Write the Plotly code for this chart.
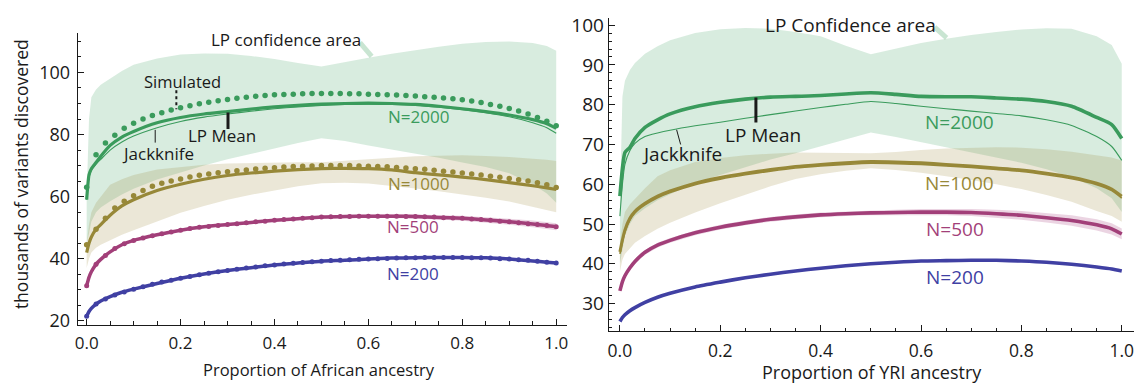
import plotly.graph_objects as go

# ---------------- data ----------------
XL = [0, 0.005, 0.01, 0.02, 0.03, 0.05, 0.075, 0.1, 0.15, 0.2, 0.25, 0.3, 0.35, 0.4, 0.45,
      0.5, 0.55, 0.6, 0.65, 0.7, 0.75, 0.8, 0.85, 0.9, 0.95, 0.98, 1.0]
XD = [round(i * 0.02, 2) for i in range(51)]

# Left panel (African ancestry)
L_G_MEAN = [59, 67, 69, 71, 73, 76.5, 79.2, 81, 83.8, 85.5, 86.6, 87.4, 88.2, 88.9, 89.4,
            89.8, 90, 90.1, 90, 89.7, 89.1, 88.3, 87.4, 86.3, 84.8, 83.5, 82]
L_G_JACK = [59, 66, 68.5, 70.5, 72, 75, 77.6, 79.5, 82.2, 84.2, 85.6, 86.6, 87.5, 88.3, 88.9,
            89.4, 89.7, 89.8, 89.7, 89.4, 88.8, 88, 87, 85.7, 83.8, 82.2, 80.4]
L_G_LO = [45, 48, 52, 55, 56.5, 58.5, 60.7, 62.5, 65.5, 67.8, 70, 72, 73.8, 75.6, 77.3,
          78.8, 77.9, 76.5, 75.2, 73.8, 72.5, 71, 69.5, 67.5, 64, 61, 58]
L_G_HI = [60, 85, 92, 94.5, 96, 98, 100.5, 102.5, 104.5, 105.8, 106.1, 106, 105.3, 104.3, 103,
          101.9, 103.3, 104.7, 106, 107.2, 108.3, 109.2, 109.8, 110, 109.5, 108.5, 107]
L_Y_MEAN = [42, 45, 47, 49.5, 51, 54, 57, 59, 62, 64, 65.6, 66.8, 67.6, 68.2, 68.7,
            69, 69.1, 69, 68.6, 67.7, 67, 66.3, 65.5, 64.5, 63.5, 62.8, 62.3]
L_Y_LO = [37, 40, 42, 43.5, 44.5, 46, 47.7, 49.2, 52, 54.8, 57, 59, 60.6, 62, 63.3,
          64.3, 64.5, 64.2, 63.5, 62.6, 61.7, 60.7, 59.6, 58.4, 56.8, 55.8, 55]
L_Y_HI = [45, 51, 55, 58, 60, 63.8, 65.6, 67, 68.7, 69.6, 70.3, 70.7, 70.9, 71, 71.1,
          71.1, 71.5, 72, 72.5, 73, 73.2, 73.3, 73.1, 72.8, 72.2, 71.9, 71.5]
L_M_MEAN = [31.3, 34, 35.8, 38.2, 39.8, 42.2, 44.5, 45.9, 47.7, 49.2, 50.3, 51, 51.7, 52.4, 52.9,
            53.4, 53.6, 53.7, 53.7, 53.6, 53.3, 53, 52.5, 51.9, 51.2, 50.7, 50.3]
L_M_LO = [30.9, 33.6, 35.4, 37.8, 39.4, 41.8, 44.1, 45.5, 47.3, 48.8, 49.9, 50.6, 51.3, 52, 52.5,
          52.9, 53.1, 53.1, 53.1, 52.9, 52.6, 52.2, 51.6, 50.9, 50.1, 49.6, 49.2]
L_M_HI = [31.7, 34.4, 36.2, 38.6, 40.2, 42.6, 44.9, 46.3, 48.1, 49.6, 50.7, 51.4, 52.1, 52.8, 53.3,
          53.9, 54.1, 54.3, 54.3, 54.3, 54, 53.8, 53.4, 52.9, 52.3, 51.8, 51.4]
L_B_MEAN = [21.5, 23, 24, 25.4, 26.4, 27.8, 29.2, 30.2, 32, 33.7, 35.1, 36.2, 37.1, 38, 38.6,
            39.2, 39.5, 39.9, 40.2, 40.3, 40.4, 40.4, 40.3, 39.9, 39.3, 38.9, 38.6]

L_G_SIM = [63, 73.5, 77.3, 79.8, 82, 83.6, 85, 86.1, 87, 87.9, 88.6, 89.3, 89.9, 90.4, 90.9,
           91.3, 91.7, 92, 92.3, 92.6, 92.8, 92.9, 93, 93.1, 93.2, 93.2, 93.2, 93.2, 93.1, 93.1,
           93, 92.9, 92.8, 92.7, 92.6, 92.4, 92.2, 92, 91.8, 91.5, 91.2, 90.8, 90.3, 89.7, 89.1,
           88.4, 87.6, 86.6, 85.5, 84.3, 82.8]
L_Y_SIM = [44.5, 49.5, 53, 56.3, 58.5, 60.3, 62, 63.3, 64.3, 65, 65.7, 66.3, 66.9, 67.3, 67.7,
           68, 68.3, 68.6, 68.9, 69.1, 69.3, 69.5, 69.7, 69.8, 69.9, 70, 70, 70, 70, 69.9,
           69.8, 69.7, 69.6, 69.4, 69.2, 69, 68.8, 68.5, 68.2, 67.9, 67.6, 67.3, 67, 66.6, 66.2,
           65.8, 65.4, 65, 64.5, 63.8, 62.9]
L_M_SIM = [31.3, 38.2, 41, 43.3, 44.8, 45.9, 46.7, 47.4, 48, 48.6, 49.2, 49.7, 50.1, 50.4, 50.7,
           51, 51.3, 51.6, 51.9, 52.1, 52.4, 52.6, 52.8, 53, 53.2, 53.4, 53.5, 53.6, 53.6, 53.7,
           53.7, 53.7, 53.7, 53.7, 53.6, 53.6, 53.5, 53.4, 53.2, 53.1, 53, 52.8, 52.6, 52.4, 52.1,
           51.9, 51.6, 51.3, 51, 50.7, 50.3]
L_B_SIM = [21.5, 25.4, 27, 28.3, 29.3, 30.2, 31, 31.8, 32.5, 33.1, 33.7, 34.3, 34.8, 35.3, 35.8,
           36.2, 36.6, 37, 37.3, 37.7, 38, 38.3, 38.5, 38.8, 39, 39.2, 39.4, 39.5, 39.7, 39.8,
           39.9, 40, 40.1, 40.2, 40.3, 40.3, 40.4, 40.4, 40.4, 40.4, 40.4, 40.3, 40.3, 40.2, 40,
           39.9, 39.7, 39.5, 39.2, 38.9, 38.6]

# Right panel (YRI ancestry)
R_G_MEAN = [57, 64, 68, 69.3, 71.5, 74.3, 76.2, 77.7, 79.5, 80.6, 81.4, 81.9, 82.1, 82.3, 82.7,
            83, 82.6, 82.1, 82, 82, 81.7, 81.4, 80.8, 79.6, 76.8, 75, 71.5]
R_G_JACK = [52, 60, 65, 68.5, 70.3, 72, 72.9, 73.6, 74.7, 75.6, 76.6, 77.5, 78.4, 79.3, 80.1,
            80.8, 80.3, 79.6, 79, 78.4, 77.8, 77.2, 76.2, 74.8, 72, 69.5, 66]
R_G_LO = [40, 44, 47, 50, 52, 54, 56, 57.5, 60.3, 62.3, 64.3, 66.2, 67.8, 69.5, 71.2,
          73, 71.9, 70.6, 69.2, 67.9, 66.7, 65.4, 63.8, 61.8, 59, 56.5, 53]
R_G_HI = [55, 82, 86, 88.7, 90.5, 92.8, 94.7, 96.2, 98, 99, 99.3, 99.1, 98.3, 97.2, 94.8,
          92.7, 94.1, 95.5, 96.6, 97.5, 98.3, 98.9, 99.2, 99.1, 97.2, 95, 90.3]
R_Y_MEAN = [43, 46, 48.5, 51.5, 53.2, 55.2, 57, 58.3, 60.3, 61.7, 62.8, 63.7, 64.5, 65, 65.4,
            65.7, 65.6, 65.4, 65, 64.6, 64.1, 63.6, 62.8, 61.8, 60.3, 58.8, 57]
R_Y_JACK = [42.5, 45.5, 48, 51, 52.8, 54.8, 56.6, 57.9, 59.9, 61.3, 62.4, 63.3, 64.1, 64.6, 65,
            65.3, 65.2, 65, 64.6, 64.2, 63.7, 63.2, 62.4, 61.4, 59.9, 58.4, 56.5]
R_Y_LO = [38, 41, 42.5, 44, 45.3, 47, 48.8, 50.3, 52.9, 55.2, 57.4, 59.5, 61.3, 62.5, 63.4,
          64, 63.6, 62.9, 62, 61.1, 60, 58.8, 57.3, 55.6, 53.3, 52, 50.6]
R_Y_HI = [45, 50, 53, 55, 56.5, 59, 62, 63.5, 65.6, 66.6, 67.3, 67.7, 68, 68, 67.9,
          67.8, 68.1, 68.6, 69, 69.2, 69.3, 69.2, 68.8, 68.2, 67.3, 66.7, 66]
R_M_MEAN = [33.2, 35.5, 37, 39, 40.6, 42.9, 44.7, 45.9, 47.8, 49.2, 50.3, 51.2, 51.8, 52.3, 52.6,
            52.8, 52.9, 53, 53, 52.9, 52.6, 52.2, 51.6, 50.9, 49.8, 48.8, 47.5]
R_M_LO = [32.6, 34.9, 36.4, 38.4, 40, 42.3, 44.1, 45.3, 47.2, 48.6, 49.7, 50.6, 51.2, 51.7, 52,
          52.2, 52.2, 52.2, 52.2, 52, 51.6, 51.1, 50.4, 49.6, 48.4, 47.4, 46.2]
R_M_HI = [33.8, 36.1, 37.6, 39.6, 41.2, 43.5, 45.3, 46.5, 48.4, 49.8, 50.9, 51.8, 52.4, 52.9, 53.2,
          53.4, 53.6, 53.8, 53.8, 53.8, 53.6, 53.3, 52.8, 52.2, 51.2, 50.2, 48.9]
R_B_MEAN = [25.5, 26.5, 27.2, 28.2, 29, 30.3, 31.6, 32.6, 34.2, 35.4, 36.5, 37.4, 38.2, 38.9, 39.5,
            40, 40.4, 40.7, 40.8, 40.9, 40.9, 40.7, 40.4, 39.9, 39.2, 38.7, 38.2]

# ---------------- style ----------------
GREEN = "#3a9b5c"
GOLD = "#978838"
MAG = "#a23f79"
BLUE = "#4040a3"
GREEN_FILL = "rgba(60,160,95,0.20)"
GOLD_FILL = "rgba(155,135,55,0.20)"
MAG_FILL = "rgba(165,60,125,0.22)"
FONT = "Open Sans"
INK = "#1a1a1a"

fig = go.Figure()


def band(x, lo, hi, color, xa, ya):
    fig.add_trace(go.Scatter(x=list(x) + list(x)[::-1], y=list(lo) + list(hi)[::-1],
                             fill="toself", fillcolor=color, line=dict(width=0),
                             mode="lines", hoverinfo="skip", showlegend=False,
                             xaxis=xa, yaxis=ya))


def line(x, y, color, w, xa, ya):
    fig.add_trace(go.Scatter(x=x, y=y, mode="lines",
                             line=dict(color=color, width=w, shape="spline", smoothing=0.6),
                             showlegend=False, xaxis=xa, yaxis=ya))


def dots(x, y, color, s, xa, ya):
    fig.add_trace(go.Scatter(x=x, y=y, mode="markers",
                             marker=dict(color=color, size=s, line=dict(width=0)),
                             showlegend=False, xaxis=xa, yaxis=ya))


# left panel
band(XL, L_G_LO, L_G_HI, GREEN_FILL, "x", "y")
band(XL, L_Y_LO, L_Y_HI, GOLD_FILL, "x", "y")
band(XL, L_M_LO, L_M_HI, MAG_FILL, "x", "y")
line(XL, L_B_MEAN, BLUE, 3.5, "x", "y")
dots(XD, L_B_SIM, BLUE, 5, "x", "y")
line(XL, L_M_MEAN, MAG, 3.5, "x", "y")
dots(XD, L_M_SIM, MAG, 5, "x", "y")
line(XL, L_Y_MEAN, GOLD, 3.2, "x", "y")
dots(XD, L_Y_SIM, GOLD, 5.5, "x", "y")
line(XL, L_G_JACK, GREEN, 1.1, "x", "y")
line(XL, L_G_MEAN, GREEN, 3.2, "x", "y")
dots(XD, L_G_SIM, GREEN, 5.5, "x", "y")

# right panel
band(XL, R_G_LO, R_G_HI, GREEN_FILL, "x2", "y2")
band(XL, R_Y_LO, R_Y_HI, GOLD_FILL, "x2", "y2")
band(XL, R_M_LO, R_M_HI, MAG_FILL, "x2", "y2")
line(XL, R_B_MEAN, BLUE, 3.6, "x2", "y2")
line(XL, R_M_MEAN, MAG, 3.6, "x2", "y2")
line(XL, R_Y_JACK, GOLD, 1.6, "x2", "y2")
line(XL, R_Y_MEAN, GOLD, 3.0, "x2", "y2")
line(XL, R_G_JACK, GREEN, 1.1, "x2", "y2")
line(XL, R_G_MEAN, GREEN, 3.6, "x2", "y2")


def axis(domain, rng, dtick, minor, size, standoff):
    return dict(domain=domain, range=rng, showline=True, linecolor=INK, linewidth=1.2,
                showgrid=False, zeroline=False, ticks="inside", ticklen=6, tickwidth=1.2,
                tickcolor=INK, tickmode="linear", tick0=0, dtick=dtick,
                minor=dict(ticks="inside", ticklen=3.5, tickwidth=1, tickcolor=INK,
                           dtick=minor, tick0=0, showgrid=False),
                tickfont=dict(family=FONT, size=size, color=INK),
                ticklabelstandoff=standoff)


xa = axis([75 / 1138, 566 / 1138], [-0.019, 1.023], 0.2, 0.05, 17, 3)
xa.update(anchor="y", tickformat=".1f")
ya = axis([59 / 389, 361 / 389], [18.66, 112.68], 20, 5, 18, 3)
ya.update(anchor="x")
xa2 = axis([608 / 1138, 1135 / 1138], [-0.022, 1.0244], 0.2, 0.05, 17.5, 3)
xa2.update(anchor="y2", tickformat=".1f")
ya2 = axis([52.3 / 389, 377 / 389], [23.0, 101.9], 10, 2, 19, 0)
ya2.update(anchor="x2")

anns = []


def txt(x, y, s, color, size, xr="x", yr="y", angle=0):
    anns.append(dict(x=x, y=y, xref=xr, yref=yr, text=s, showarrow=False, textangle=angle,
                     font=dict(family=FONT, size=size, color=color),
                     xanchor="center", yanchor="middle"))


# left labels
txt(0.424, 110.6, "LP confidence area", INK, 17)
txt(0.204, 97.1, "Simulated", INK, 16.5)
txt(0.289, 79.7, "LP Mean", INK, 17)
txt(0.151, 74.0, "Jackknife", INK, 17)
txt(0.707, 85.9, "N=2000", GREEN, 17)
txt(0.707, 64.3, "N=1000", GOLD, 17)
txt(0.696, 50.5, "N=500", MAG, 17)
txt(0.696, 35.3, "N=200", BLUE, 17)
# right labels
txt(0.459, 100.0, "LP Confidence area", INK, 19, "x2", "y2")
txt(0.286, 72.5, "LP Mean", INK, 19, "x2", "y2")
txt(0.124, 67.7, "Jackknife", INK, 19, "x2", "y2")
txt(0.677, 75.7, "N=2000", GREEN, 19, "x2", "y2")
txt(0.677, 60.3, "N=1000", GOLD, 19, "x2", "y2")
txt(0.667, 48.8, "N=500", MAG, 19, "x2", "y2")
txt(0.667, 36.6, "N=200", BLUE, 19, "x2", "y2")
# axis titles
txt(316.7 / 1138, 1 - 376.5 / 389, "Proportion of African ancestry", INK, 16.5, "paper", "paper")
txt(872 / 1138, 1 - 378.5 / 389, "Proportion of YRI ancestry", INK, 18, "paper", "paper")
txt(18 / 1138, 1 - 174 / 389, "thousands of variants discovered", INK, 17.5, "paper", "paper", -90)

shapes = [
    dict(type="line", xref="x", yref="y", x0=0.582, y0=109.6, x1=0.607, y1=105.2,
         line=dict(color="rgba(60,160,95,0.28)", width=5)),
    dict(type="line", xref="x", yref="y", x0=0.191, y0=94.3, x1=0.191, y1=88.1,
         line=dict(color=INK, width=2, dash="dot")),
    dict(type="line", xref="x", yref="y", x0=0.301, y0=87.1, x1=0.301, y1=81.8,
         line=dict(color=INK, width=3)),
    dict(type="line", xref="x", yref="y", x0=0.146, y0=81.5, x1=0.146, y1=77.4,
         line=dict(color=INK, width=1)),
    dict(type="line", xref="x2", yref="y2", x0=0.627, y0=99.5, x1=0.651, y1=96.8,
         line=dict(color="rgba(60,160,95,0.28)", width=5)),
    dict(type="line", xref="x2", yref="y2", x0=0.271, y0=81.8, x1=0.271, y1=75.5,
         line=dict(color=INK, width=3)),
    dict(type="line", xref="x2", yref="y2", x0=0.113, y0=73.7, x1=0.121, y1=70.0,
         line=dict(color=INK, width=1)),
]

fig.update_layout(width=1138, height=389, margin=dict(l=0, r=0, t=0, b=0),
                  paper_bgcolor="white", plot_bgcolor="white", showlegend=False,
                  xaxis=xa, yaxis=ya, xaxis2=xa2, yaxis2=ya2,
                  annotations=anns, shapes=shapes)

fig.write_html("out.html")
